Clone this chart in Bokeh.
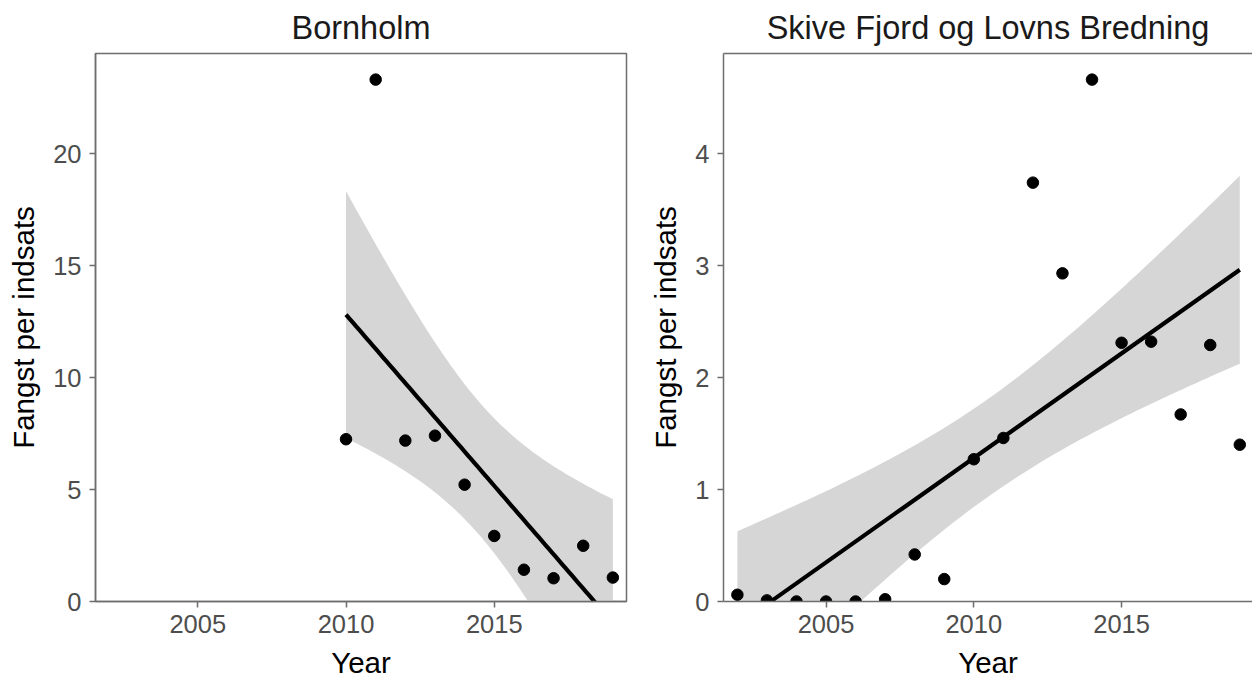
import numpy as np
from bokeh.plotting import figure
from bokeh.layouts import row
from bokeh.models import FixedTicker, Range1d, LinearAxis
from bokeh.embed import file_html
from bokeh.resources import INLINE

# ---- data ----
years_bornholm = [2010, 2011, 2012, 2013, 2014, 2015, 2016, 2017, 2018, 2019]
catch_bornholm = [7.25, 23.32, 7.19, 7.41, 5.22, 2.93, 1.42, 1.04, 2.49, 1.07]

years_skive = [2002, 2003, 2004, 2005, 2006, 2007, 2008, 2009, 2010,
               2011, 2012, 2013, 2014, 2015, 2016, 2017, 2018, 2019]
catch_skive = [0.06, 0.01, 0.0, 0.0, 0.0, 0.02, 0.42, 0.20, 1.27,
               1.46, 3.74, 2.93, 4.66, 2.31, 2.32, 1.67, 2.29, 1.40]

x_ticks = [2005, 2010, 2015]
y_ticks_bornholm = [0, 5, 10, 15, 20]
y_ticks_skive = [0, 1, 2, 3, 4]
titles = ["Bornholm", "Skive Fjord og Lovns Bredning"]
x_label = "Year"
y_label = "Fangst per indsats"

# Student t 0.90 quantiles (80% confidence band), keyed by df = n - 2
T_Q = {8: 1.859548, 16: 1.745884}

FONT = "Liberation Sans"
BORDER = "#6e6e6e"
TICKLAB = "#4d4d4d"
RIBBON = "#d6d6d6"
FIG_H = 681


def lm_band(x, y, n_out=80):
    x = np.asarray(x, float)
    y = np.asarray(y, float)
    n = len(x)
    xb, yb = x.mean(), y.mean()
    sxx = ((x - xb) ** 2).sum()
    b1 = ((x - xb) * (y - yb)).sum() / sxx
    resid = y - (yb + b1 * (x - xb))
    s2 = (resid ** 2).sum() / (n - 2)
    xs = np.linspace(x.min(), x.max(), n_out)
    fit = yb + b1 * (xs - xb)
    se = np.sqrt(s2 * (1.0 / n + (xs - xb) ** 2 / sxx))
    t = T_Q[n - 2]
    return xs, fit, fit - t * se, fit + t * se


def make_panel(title, xs, ys, yticks, x_start, x_end, width, mb_left, mb_right, full_outline):
    p = figure(width=width, height=FIG_H,
               x_range=Range1d(x_start, x_end),
               y_range=Range1d(0, 1.05 * max(ys)),
               output_backend="svg", toolbar_location=None,
               min_border_left=mb_left, min_border_right=mb_right,
               min_border_top=52, min_border_bottom=78,
               background_fill_color="white", border_fill_color="white")
    p.title.text = title
    p.title.align = "center"
    p.title.text_font = FONT
    p.title.text_font_size = "32.5px"
    p.title.text_font_style = "normal"
    p.title.text_color = "#1a1a1a"
    p.title.standoff = 15

    p.xgrid.visible = False
    p.ygrid.visible = False

    xax = p.below[0]
    yax = p.left[0]
    for ax in (xax, yax):
        ax.axis_line_color = BORDER
        ax.axis_line_width = 1.5
        ax.major_tick_line_color = BORDER
        ax.major_tick_line_width = 1.5
        ax.major_tick_out = 6
        ax.major_tick_in = 0
        ax.minor_tick_out = 0
        ax.minor_tick_in = 0
        ax.major_label_text_font = FONT
        ax.major_label_text_font_size = "25.5px"
        ax.major_label_text_color = TICKLAB
        ax.axis_label_text_font = FONT
        ax.axis_label_text_font_size = "29.5px"
        ax.axis_label_text_font_style = "normal"
        ax.axis_label_text_color = "black"

    xax.ticker = FixedTicker(ticks=x_ticks)
    yax.ticker = FixedTicker(ticks=yticks)
    xax.axis_label = x_label
    yax.axis_label = y_label
    xax.major_label_standoff = 7
    xax.axis_label_standoff = 10
    yax.major_label_standoff = 8
    yax.axis_label_standoff = 10

    if full_outline:
        p.outline_line_color = BORDER
        p.outline_line_width = 1.5
    else:
        # panel is cut at the right edge: border on top, left and bottom only
        p.outline_line_color = None
        top = LinearAxis(ticker=FixedTicker(ticks=[]))
        top.axis_line_color = BORDER
        top.axis_line_width = 1.5
        top.major_tick_out = 0
        top.major_tick_in = 0
        top.minor_tick_out = 0
        top.minor_tick_in = 0
        top.major_label_standoff = 0
        top.major_label_text_font_size = "0px"
        top.axis_label_standoff = 0
        p.add_layout(top, "above")

    bx, fit, lo, hi = lm_band(xs, ys)
    p.varea(x=bx, y1=lo, y2=hi, fill_color=RIBBON, fill_alpha=1.0)
    p.line(x=bx, y=fit, line_color="black", line_width=4.2)
    p.scatter(x=xs, y=ys, size=11.5, fill_color="black", line_color="black")
    return p


p1 = make_panel(titles[0], years_bornholm, catch_bornholm, y_ticks_bornholm,
                2001.55, 2019.46, 636, 95, 10, True)
p2 = make_panel(titles[1], years_skive, catch_skive, y_ticks_skive,
                2001.53, 2019.43, 616, 87, 0, False)

layout = row(p1, p2)
open("out.html", "w").write(file_html(layout, INLINE))
